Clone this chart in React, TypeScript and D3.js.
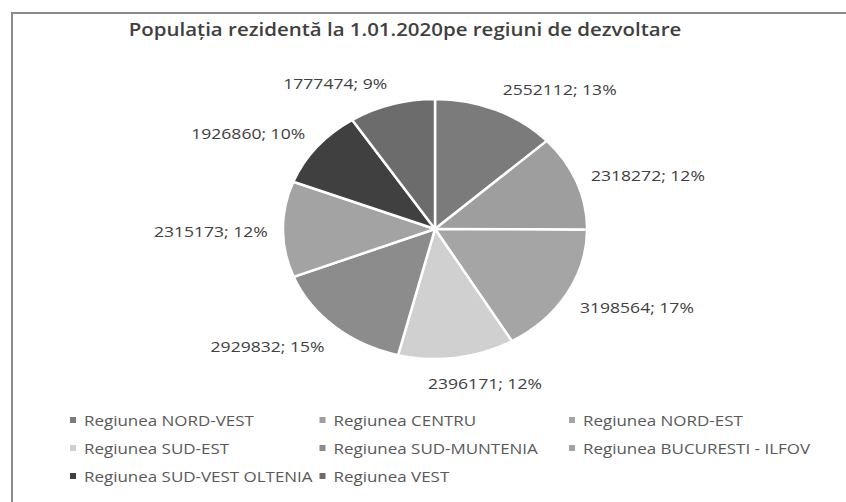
import React from "react";
import * as d3 from "d3";

const regions = [
  "Regiunea NORD-VEST",
  "Regiunea CENTRU",
  "Regiunea NORD-EST",
  "Regiunea SUD-EST",
  "Regiunea SUD-MUNTENIA",
  "Regiunea BUCURESTI - ILFOV",
  "Regiunea SUD-VEST OLTENIA",
  "Regiunea VEST",
];
const populations = [2552112, 2318272, 3198564, 2396171, 2929832, 2315173, 1926860, 1777474];
const percents = [13, 12, 17, 12, 15, 12, 10, 9];
const colors = ["#7b7b7b", "#9e9e9e", "#a5a5a5", "#d0d0d0", "#8c8c8c", "#a3a3a3", "#404040", "#6c6c6c"];
const title = "Populația rezidentă la 1.01.2020pe regiuni de dezvoltare";

const W = 846;
const H = 502;
const cx = 435;
const cy = 229;
const r = 130;
const sx = 1.17;
const font = "'Open Sans', 'DejaVu Sans', sans-serif";

export default function App() {
  const pie = d3.pie<number>().sort(null).value((d) => d);
  const arcs = pie(populations);
  const arcGen = d3.arc<d3.PieArcDatum<number>>().innerRadius(0).outerRadius(r);
  const labelRadius = 142;
  const halfW = 58;

  const cols = 3;
  const legendX = d3.scaleLinear().domain([0, 1]).range([70, 319.5]);
  const legendY = d3.scaleLinear().domain([0, 1]).range([420, 448]);

  return (
    <svg width={W} height={H} style={{ position: "absolute", left: 0, top: 0, background: "#fff" }}>
      <rect x={0} y={0} width={W} height={H} fill="#fff" />
      <rect x={12} y={13} width={W + 20} height={H + 20} fill="#fff" stroke="#8a8a8a" strokeWidth={2} />
      <text
        transform={`translate(405,36) scale(${sx},1)`}
        textAnchor="middle"
        fontFamily={font}
        fontWeight={600}
        fontSize={17.5}
        fill="#3f3f3f"
      >
        {title}
      </text>
      <g transform={`translate(${cx},${cy}) scale(${sx},1)`}>
        {arcs.map((a, i) => (
          <path
            key={i}
            d={arcGen(a) || ""}
            fill={colors[i]}
            stroke="#fff"
            strokeWidth={2.5}
            vectorEffect="non-scaling-stroke"
          />
        ))}
      </g>
      {arcs.map((a, i) => {
        const th = (a.startAngle + a.endAngle) / 2;
        const ax = cx + sx * labelRadius * Math.sin(th);
        const ay = cy - labelRadius * Math.cos(th);
        const dx = halfW * Math.max(-1, Math.min(1, 3.2 * Math.sin(th)));
        const dy = -12 * Math.cos(th) + 2;
        return (
          <text
            key={i}
            transform={`translate(${ax + dx},${ay + dy}) scale(${sx},1)`}
            textAnchor="middle"
            dominantBaseline="central"
            fontFamily={font}
            fontSize={15}
            fill="#404040"
          >
            {`${populations[i]}; ${percents[i]}%`}
          </text>
        );
      })}
      {regions.map((name, i) => {
        const col = i % cols;
        const row = Math.floor(i / cols);
        const x = legendX(col);
        const y = legendY(row);
        return (
          <g key={name}>
            <rect x={x} y={y - 3} width={6} height={6} fill={colors[i]} />
            <text
              transform={`translate(${x + 14},${y}) scale(${sx},1)`}
              dominantBaseline="central"
              fontFamily={font}
              fontSize={14.5}
              fill="#595959"
            >
              {name}
            </text>
          </g>
        );
      })}
    </svg>
  );
}
